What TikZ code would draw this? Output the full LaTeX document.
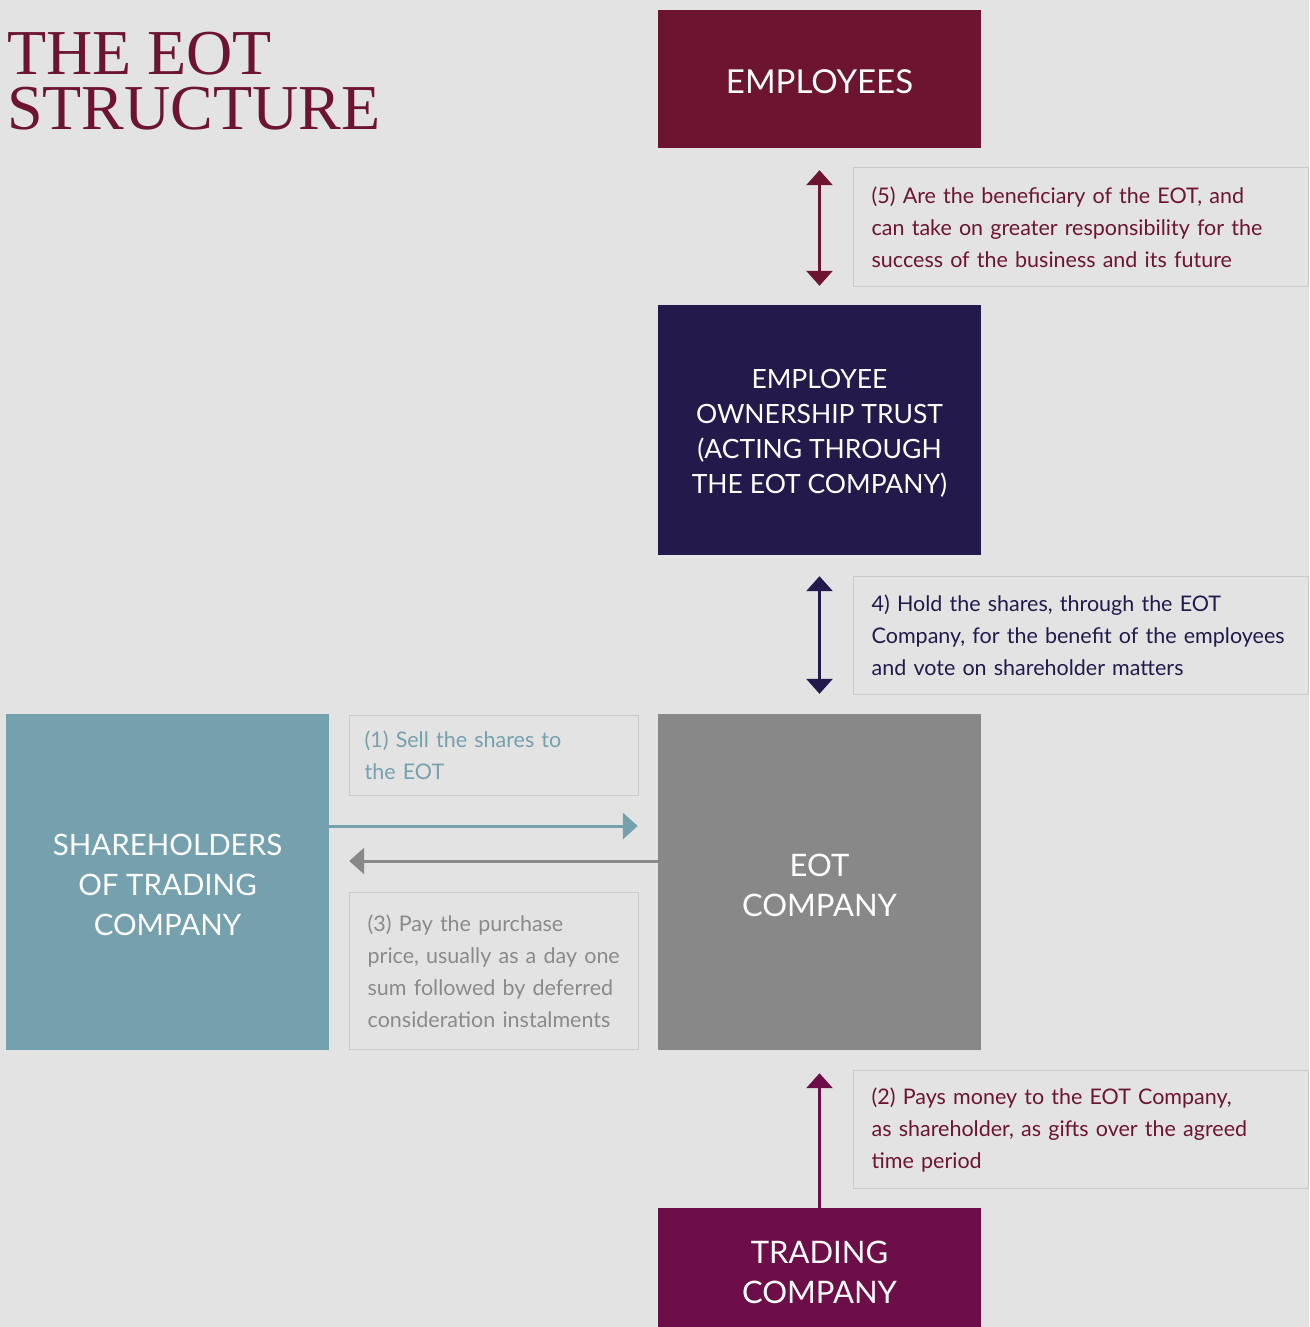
\documentclass[tikz,border=0pt]{standalone}
\usepackage{fontspec}
\setmainfont{Lato}
\newfontfamily\titlefont{Liberation Serif}
\usetikzlibrary{arrows.meta}
\definecolor{bgc}{HTML}{E3E3E3}
\definecolor{maroon}{HTML}{6D1530}
\definecolor{navyc}{HTML}{23194B}
\definecolor{grayc}{HTML}{888888}
\definecolor{tealc}{HTML}{75A0AE}
\definecolor{purplec}{HTML}{6E0E48}
\definecolor{borderc}{HTML}{CACACA}
\definecolor{graytext}{HTML}{8A8A8A}
\tikzset{
  bigbox/.style={rectangle, inner sep=0pt, minimum width=323pt},
  boxtext/.style={inner sep=0pt, text=white, align=center},
  titletext/.style={anchor=base west, inner sep=0pt, text=maroon, font=\titlefont\fontsize{64}{64}\selectfont},
  labelbox/.style={rectangle, draw=borderc, line width=1.3pt, fill=bgc, align=left, anchor=north west,
     font=\fontsize{21.5}{32}\selectfont},
  arr/.style={line width=3pt, -{Triangle[width=26pt,length=15pt]}},
  darr/.style={line width=3pt, {Triangle[width=26pt,length=15pt]}-{Triangle[width=26pt,length=15pt]}},
}
\begin{document}
\begin{tikzpicture}[x=1pt,y=-1pt]
\useasboundingbox[fill=bgc] (0,0) rectangle (1309,1327);
\begin{scope}
\clip (0,0) rectangle (1309,1327);
% title
\node[titletext] (title1) at (7,75) {THE EOT};
\node[titletext] (title2) at (7,130) {STRUCTURE};
% big boxes
\node[bigbox, fill=maroon, minimum height=138pt] (emp) at (819.5,79) {};
\node[bigbox, fill=navyc, minimum height=250pt] (trust) at (819.5,430) {};
\node[bigbox, fill=grayc, minimum height=336pt] (eot) at (819.5,882) {};
\node[bigbox, fill=tealc, minimum height=336pt] (sh) at (167.5,882) {};
\node[bigbox, fill=purplec, minimum height=126pt] (trade) at (819.5,1271) {};
% box texts
\node[boxtext, font=\fontsize{33}{40}\selectfont] (empt) at ([yshift=-2.5pt]emp.center) {EMPLOYEES};
\node[boxtext, font=\fontsize{26.5}{35}\selectfont] (trustt) at ([yshift=-3.5pt]trust.center) {EMPLOYEE\\OWNERSHIP TRUST\\(ACTING THROUGH\\THE EOT COMPANY)};
\node[boxtext, font=\fontsize{31}{40}\selectfont] (eott) at ([yshift=-3pt]eot.center) {EOT\\COMPANY};
\node[boxtext, font=\fontsize{29.5}{40}\selectfont] (sht) at ([yshift=-3pt]sh.center) {SHAREHOLDERS\\OF TRADING\\COMPANY};
\node[boxtext, font=\fontsize{31}{40}\selectfont] (tradet) at ([yshift=-1pt]trade.center) {TRADING\\COMPANY};
% label boxes
\node[labelbox, text=maroon, minimum width=455pt, minimum height=119pt, text width=419pt, inner xsep=18pt] (l5) at (853,167)
 {(5) Are the beneficiary of the EOT, and\\can take on greater responsibility for the\\success of the business and its future};
\node[labelbox, text=navyc, minimum width=455pt, minimum height=118pt, text width=419pt, inner xsep=18pt] (l4) at (853,576)
 {4) Hold the shares, through the EOT\\Company, for the benefit of the employees\\and vote on shareholder matters};
\node[labelbox, text=tealc, minimum width=289pt, minimum height=80pt, text width=259pt, inner xsep=15pt] (l1) at (349,715)
 {(1) Sell the shares to\\the EOT};
\node[labelbox, text=graytext, minimum width=289pt, minimum height=157pt, text width=253pt, inner xsep=18pt] (l3) at (349,892)
 {(3) Pay the purchase\\price, usually as a day one\\sum followed by deferred\\consideration instalments};
\node[labelbox, text=maroon, minimum width=455pt, minimum height=118pt, text width=419pt, inner xsep=18pt] (l2) at (853,1070)
 {(2) Pays money to the EOT Company,\\as shareholder, as gifts over the agreed\\time period};
% arrows
\draw[darr, maroon, shorten <=22pt, shorten >=19pt] (emp.south) -- (trust.north);
\draw[darr, navyc, shorten <=21pt, shorten >=20pt] (trust.south) -- (eot.north);
\draw[arr, purplec, shorten >=23pt] (trade.north) -- (eot.south);
\draw[arr, tealc, shorten >=20pt] ([yshift=56pt]sh.east) -- ([yshift=56pt]eot.west);
\draw[arr, grayc, shorten >=20pt] ([yshift=21pt]eot.west) -- ([yshift=21pt]sh.east);
\end{scope}
\end{tikzpicture}
\end{document}
